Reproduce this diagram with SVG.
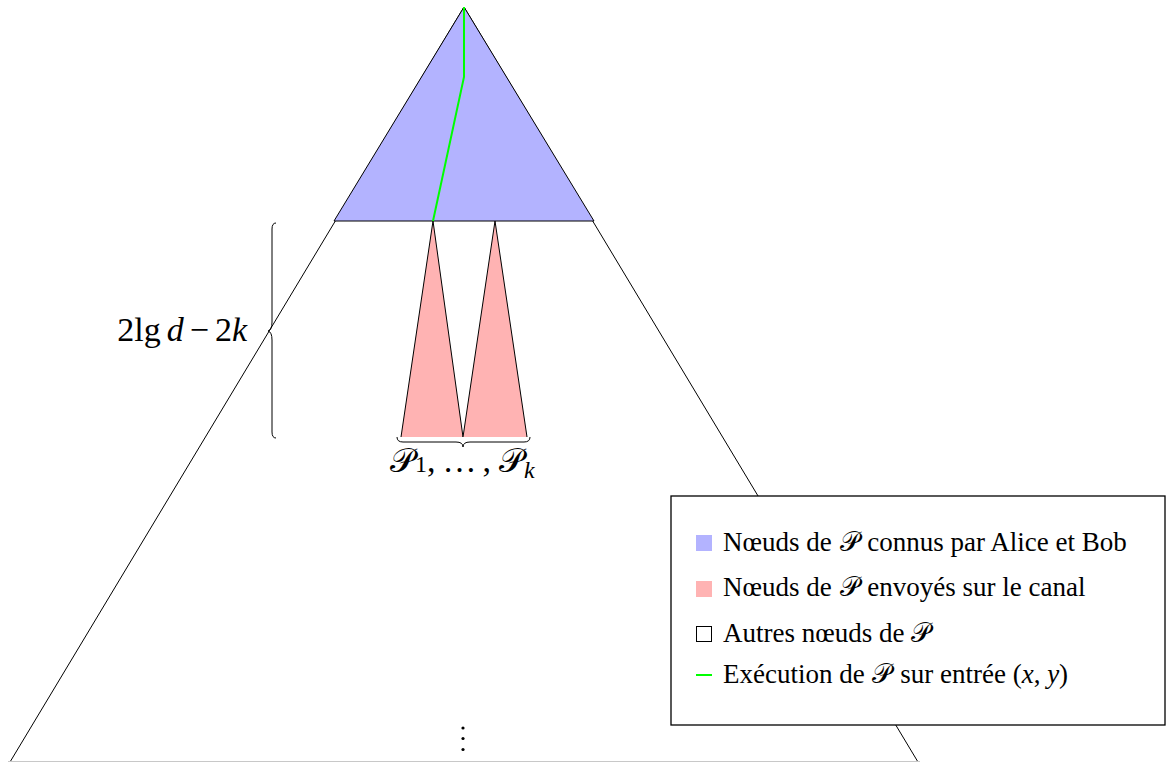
<svg xmlns="http://www.w3.org/2000/svg" width="1166" height="762" viewBox="0 0 1166 762">
<style>
.t{font-family:"Liberation Serif","Times New Roman",serif;fill:#000}
.m{font-family:"Liberation Serif",serif;font-style:italic}
.sc{font-family:"DejaVu Serif","DejaVu Sans","Noto Sans",serif;font-style:normal}
.edge{stroke:#000;stroke-width:1;fill:none}
</style>
<rect width="1166" height="762" fill="#fff"/>
<g id="big-tree">
<line class="edge" x1="464" y1="7" x2="10" y2="762"/>
<line class="edge" x1="464" y1="7" x2="918" y2="762"/>
<line x1="8" y1="761.5" x2="920" y2="761.5" stroke="#c8c8c8" stroke-width="1"/>
</g>
<g id="known">
<path d="M464,7 L334,221 L594,221 Z" fill="#b3b3ff"/>
<path class="edge" d="M334,221 L464,7 L594,221 Z"/>
</g>
<g id="sent">
<path d="M433,221 L401,437 L463,437 Z" fill="#ffb3b3"/>
<path class="edge" d="M401,437 L433,221 L463,437"/>
<path d="M495,221 L463,437 L527,437 Z" fill="#ffb3b3"/>
<path class="edge" d="M463,437 L495,221 L527,437"/>
</g>
<g id="connectors">
<polyline points="464,7 464,77 433,221" fill="none" stroke="#00ff00" stroke-width="2"/>
</g>
<g id="brace-bottom">
<path class="edge" d="M397,437 Q397,442 403,442 L456,442 Q463,442 463,447 Q463,442 470,442 L524,442 Q530,442 530,437"/>
<text class="t" x="390" y="472" font-size="34"><tspan class="sc">𝒫</tspan><tspan font-size="24">1</tspan>,<tspan dx="7" letter-spacing="6">…</tspan>,<tspan class="sc" dx="8">𝒫</tspan><tspan class="m" font-size="24" dy="6">k</tspan></text>
</g>
<g id="brace-left">
<path class="edge" d="M276,223 Q272,223 272,229 L272,322 Q272,330 268,331 Q272,332 272,340 L272,432 Q272,438 276,438"/>
<text class="t" x="247" y="341" font-size="34" text-anchor="end">2lg<tspan class="m" dx="6">d</tspan><tspan dx="6">−</tspan><tspan dx="6">2</tspan><tspan class="m">k</tspan></text>
</g>
<g id="dots">
<circle cx="463" cy="728" r="1.6"/>
<circle cx="463" cy="738.5" r="1.6"/>
<circle cx="463" cy="749.5" r="1.6"/>
</g>
<g id="legend">
<rect x="671" y="496" width="494" height="229" fill="#fff" stroke="#000" stroke-width="1.3"/>
<rect x="696" y="535" width="16" height="16" fill="#b3b3ff"/>
<text class="t" x="723" y="551" font-size="27">Nœuds de <tspan class="sc" dx="1">𝒫</tspan><tspan dx="2"> connus par Alice et Bob</tspan></text>
<rect x="696" y="581" width="16" height="16" fill="#ffb3b3"/>
<text class="t" x="723" y="596" font-size="27">Nœuds de <tspan class="sc" dx="1">𝒫</tspan><tspan dx="2"> envoyés sur le canal</tspan></text>
<rect x="696.5" y="626.5" width="15" height="15" fill="#fff" stroke="#000" stroke-width="1"/>
<text class="t" x="723" y="642" font-size="27">Autres nœuds de <tspan class="sc">𝒫</tspan></text>
<line x1="696" y1="675" x2="712" y2="675" stroke="#00ff00" stroke-width="2"/>
<text class="t" x="723" y="683" font-size="27">Exécution de <tspan class="sc" dx="1">𝒫</tspan><tspan dx="2"> sur entrée (</tspan><tspan class="m">x</tspan>, <tspan class="m">y</tspan>)</text>
</g>
</svg>
